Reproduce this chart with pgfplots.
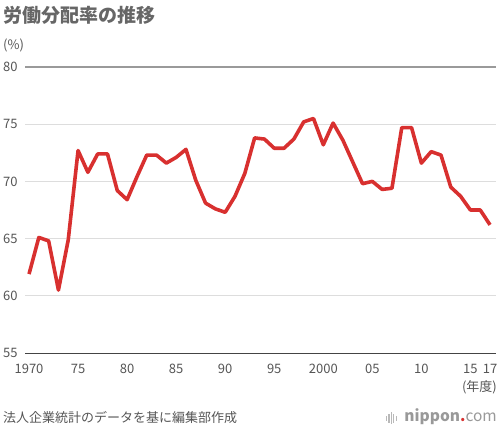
\documentclass[border=0pt]{standalone}
\usepackage{fontspec}
\setmainfont{Noto Sans CJK JP}
\usepackage{pgfplots}
\pgfplotsset{compat=1.18}
\definecolor{linered}{HTML}{D8302F}
\definecolor{txtgray}{HTML}{555555}
\definecolor{titlegray}{HTML}{666666}
\definecolor{gridgray}{HTML}{DDDDDD}
\definecolor{topgray}{HTML}{9A9A9A}
\definecolor{basegray}{HTML}{444444}
\begin{document}
\begin{tikzpicture}[x=1bp,y=1bp]
\path (0,0) rectangle (500,428);
\begin{axis}[
  at={(25bp,75bp)}, anchor=south west,
  scale only axis, width=471bp, height=286bp,
  xmin=1969.59, xmax=2017.61, ymin=55, ymax=80,
  axis line style={draw=none},
  major tick length=0pt,
  xtick={1970,1975,1980,1985,1990,1995,2000,2005,2010,2015,2017},
  xticklabels={1970,75,80,85,90,95,2000,05,10,15,17},
  ytick={55,60,65,70,75,80},
  ymajorgrids, grid style={gridgray, line width=1bp},
  ticklabel style={font=\fontsize{13bp}{15bp}\selectfont, text=txtgray},
  /pgf/number format/assume math mode=true,
  xticklabel style={anchor=north, inner sep=0pt, yshift=-11bp},
  yticklabel style={anchor=west, inner sep=0pt, xshift=-22bp},
  clip=false,
]
\draw[topgray, line width=1.5bp] (rel axis cs:0,1) -- (rel axis cs:1,1);
\draw[basegray, line width=1bp] (rel axis cs:0,0) -- (rel axis cs:1,0);
\addplot[linered, line width=3.6bp, line join=round, mark=none] coordinates {
(1970,61.9) (1971,65.1) (1972,64.8) (1973,60.5) (1974,64.9) (1975,72.7)
(1976,70.8) (1977,72.4) (1978,72.4) (1979,69.2) (1980,68.4) (1981,70.4)
(1982,72.3) (1983,72.3) (1984,71.6) (1985,72.1) (1986,72.8) (1987,70.1)
(1988,68.1) (1989,67.6) (1990,67.3) (1991,68.7) (1992,70.7) (1993,73.8)
(1994,73.7) (1995,72.9) (1996,72.9) (1997,73.7) (1998,75.2) (1999,75.5)
(2000,73.2) (2001,75.1) (2002,73.6) (2003,71.7) (2004,69.8) (2005,70.0)
(2006,69.3) (2007,69.4) (2008,74.7) (2009,74.7) (2010,71.6) (2011,72.6)
(2012,72.3) (2013,69.5) (2014,68.7) (2015,67.5) (2016,67.5) (2017,66.2)
};
\end{axis}
\node[anchor=west, inner sep=0pt, text=titlegray, font=\bfseries\fontsize{19bp}{21bp}\selectfont] at (3,413) {労働分配率の推移};
\node[anchor=west, inner sep=0pt, text=txtgray, font=\fontsize{13bp}{15bp}\selectfont] at (3,383) {(\%)};
\node[anchor=east, inner sep=0pt, text=txtgray, font=\fontsize{13bp}{15bp}\selectfont] at (497,41) {(年度)};
\node[anchor=west, inner sep=0pt, text=txtgray, font=\fontsize{13bp}{15bp}\selectfont] at (3,10) {法人企業統計のデータを基に編集部作成};
\foreach \i/\h in {0/5,2.4/9,4.8/12,7.2/9,9.6/5} {
  \fill[gray!55] (386+\i,10-\h/2) rectangle ++(1.2,\h);
}
\node[anchor=east, inner sep=0pt, text=gray!80, font=\fontsize{15.5bp}{17bp}\selectfont] at (497,11) {\textbf{nippon}\textcolor{linered}{\textbf{.}}com};
\end{tikzpicture}
\end{document}
